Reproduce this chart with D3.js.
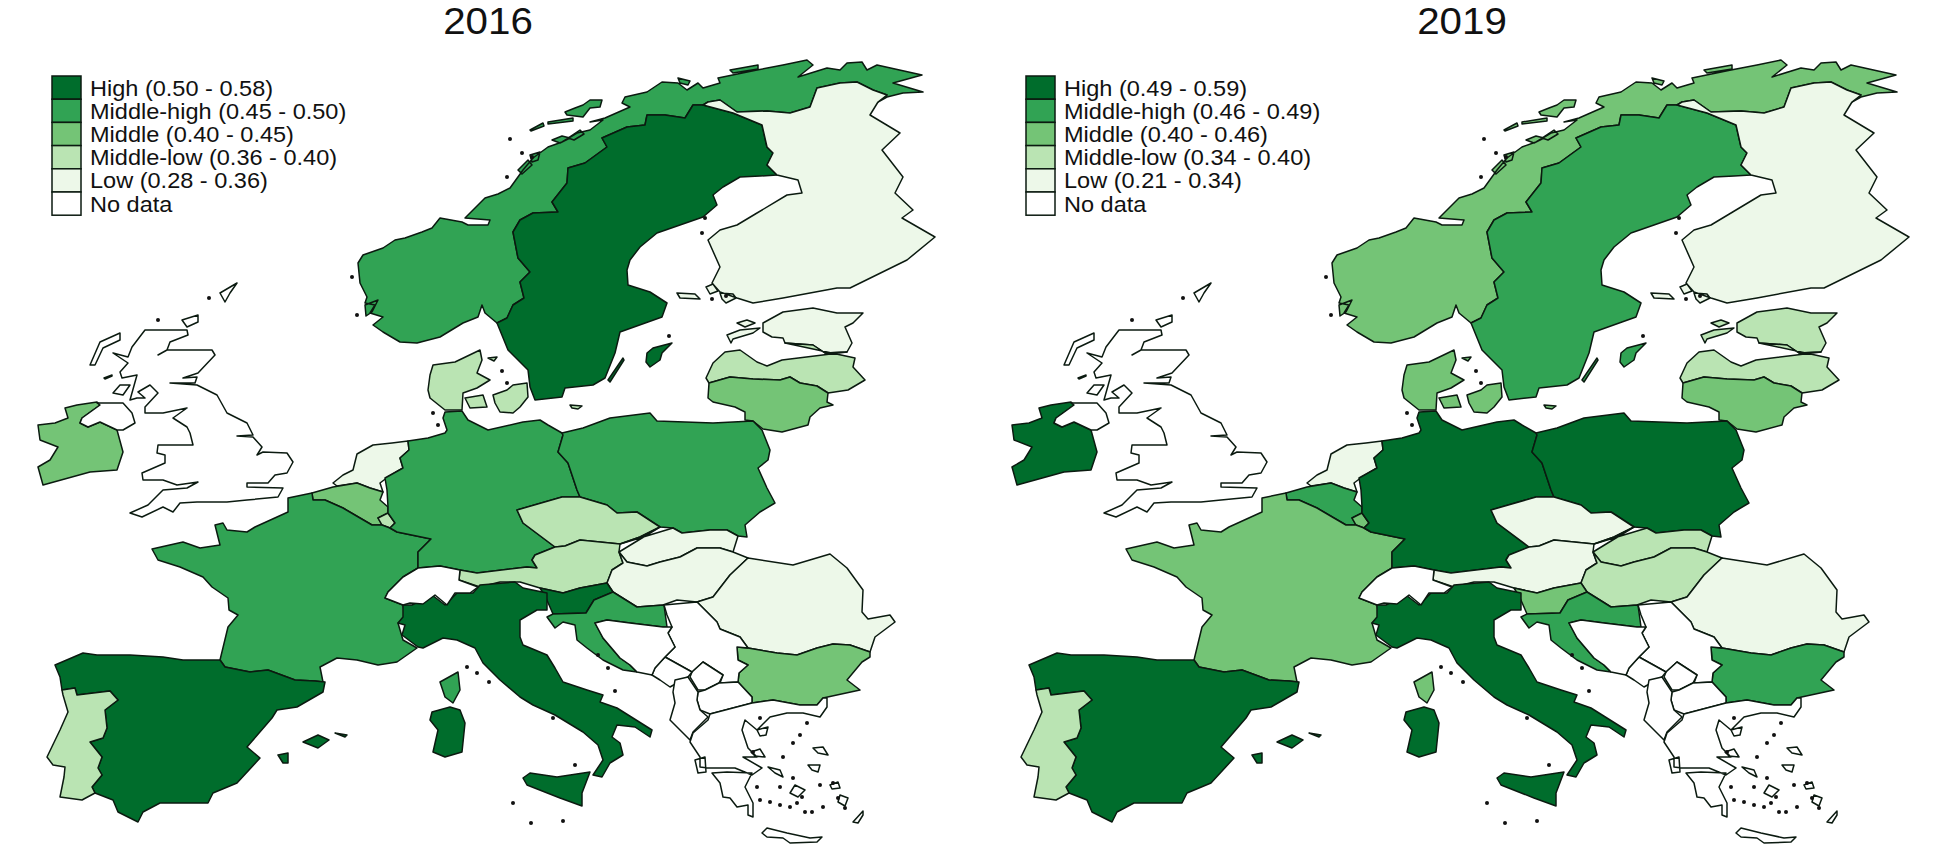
<!DOCTYPE html>
<html>
<head>
<meta charset="utf-8">
<script src="https://cdn.jsdelivr.net/npm/d3@7"></script>
<style>
  html, body { margin: 0; background: #fff; }
  text { font-family: "Liberation Sans", Arial, sans-serif; fill: #111; }
</style>
</head>
<body>
<div id="viz"></div>
<script>
//CANVAS
const CANVAS = { WIDTH: 1948, HEIGHT: 854 };
const PANEL = { OFFSET: 974, TITLE_X: 488, TITLE_Y: 34, TITLE_SIZE: 37, TITLE_STRETCH: 1.09 };
const LEGEND = { X: 52, Y: 76, W: 29, H: 23.2, TEXT_X: 90, TEXT_SIZE: 22, TEXT_STRETCH: 1.07 };

//DATA - panels and legend
const years = ["2016", "2019"];
const classNames = ["High", "Middle-high", "Middle", "Middle-low", "Low", "No data"];
const classColors = ["#006d2c", "#31a354", "#74c476", "#bae4b3", "#edf8e9", "#ffffff"];
const ranges2016 = ["0.50 - 0.58", "0.45 - 0.50", "0.40 - 0.45", "0.36 - 0.40", "0.28 - 0.36", ""];
const ranges2019 = ["0.49 - 0.59", "0.46 - 0.49", "0.40 - 0.46", "0.34 - 0.40", "0.21 - 0.34", ""];

//DATA - borders shared by two countries
const seNo = [[497,323],[507,318],[513,305],[524,298],[520,282],[530,272],[518,258],[513,232],[520,220],[533,213],[558,212],[552,202],[567,183],[568,168],[585,163],[607,147],[602,138],[627,127],[645,125],[647,115],[665,115],[685,118],[693,105],[703,105]];
const seFi = [[703,105],[733,113],[762,125],[767,147],[773,153],[767,165],[777,175]];
const noFi = [[703,105],[708,102],[720,100],[737,112],[767,111],[790,113],[810,107],[817,88],[840,83],[857,82],[873,90],[887,95],[878,102]];
const eeLv = [[847,352],[825,353],[813,345],[785,343]];
const lvLt = [[709,383],[730,377],[753,379],[780,380],[790,377],[800,383],[817,386],[828,393]];
const dePl = [[562,433],[563,435],[558,452],[568,463],[577,490],[580,497]];
const deCz = [[580,497],[562,497],[517,510],[523,523],[555,547]];
const deAt = [[555,547],[535,555],[532,560],[537,568],[527,567],[477,573],[460,570]];
const deCh = [[460,570],[440,566],[418,568]];
const deFr = [[418,568],[418,552],[431,539],[397,532],[390,528]];
const frBe = [[382,525],[372,525],[360,518],[343,508],[325,500],[313,500],[312,493]];
const frEs = [[315,681],[295,680],[268,670],[250,672],[225,667],[220,660]];
const frIt = [[417,648],[403,640],[398,623],[405,617],[403,605]];
const frCh = [[403,605],[385,598],[388,592],[403,577],[418,568]];
const esPt = [[62,690],[75,688],[77,695],[110,691],[118,700],[105,710],[107,728],[103,738],[90,742],[102,757],[98,768],[102,775],[92,787],[95,793]];
const plCz = [[580,497],[607,505],[617,513],[637,512],[660,527]];
const plSk = [[660,527],[673,528],[682,533],[710,530],[727,530]];
const czAt = [[555,547],[565,546],[580,540],[620,544]];
const czSk = [[620,544],[640,537],[660,527]];
const atHu = [[619,552],[623,563],[612,570],[607,583]];
const skHu = [[619,552],[627,562],[647,566],[660,562],[680,557],[697,548],[720,548],[733,552],[748,558]];
const huRo = [[748,558],[730,575],[713,597],[697,602]];
const roBg = [[870,652],[850,645],[833,644],[817,648],[797,655],[777,653],[748,648]];
const roRs = [[697,602],[717,622],[720,629],[740,637],[748,648]];
const bgRs = [[748,648],[737,647],[738,660],[748,665],[739,673],[738,682]];
const bgGr = [[752,703],[773,700],[800,705],[817,705],[823,698]];
const itCh = [[403,605],[412,605],[432,595],[445,605],[457,593],[473,593],[480,585]];
const atIt = [[480,587],[500,582],[520,582],[540,588]];
const siAt = [[540,588],[563,593],[580,588],[607,583]];
const siHr = [[613,592],[594,600],[586,613],[553,614]];
const hrBa = [[595,623],[607,620],[630,623],[663,627],[667,627]];
const hrHu = [[663,605],[637,607],[613,592]];
const rsBa = [[665,657],[675,647],[668,633],[672,627],[667,615],[664,605]];

const rev = a => a.slice().reverse();

//DATA - country outlines
const norway = [
  [[497,323],[485,313],[482,305],[478,317],[463,323],[440,337],[417,343],[400,342],[383,332],[373,325],[383,317],[370,313],[375,305],[365,303],[367,297],[360,283],[358,263],[363,255],[383,248],[395,240],[405,238],[422,232],[432,228],[440,218],[462,222],[468,225],[488,225],[490,220],[465,218],[485,198],[498,194],[510,188],[523,170],[533,158],[548,147],[562,142],[577,133],[590,130],[603,120],[590,122],[605,118],[630,107],[622,103],[625,97],[647,92],[662,82],[678,83],[687,90],[698,83],[703,88],[720,83],[718,78],[757,70],[783,65],[807,60],[813,65],[798,77],[827,68],[840,70],[847,63],[862,62],[867,70],[877,65],[922,75],[893,83],[923,92],[903,93],[887,97],[878,102],
   ...rev(noFi).slice(1), ...rev(seNo).slice(1)],
  [[565,112],[575,108],[583,105],[590,100],[602,100],[600,107],[590,108],[583,117],[567,115]],
  [[548,122],[573,118],[573,121],[548,124]],
  [[530,130],[543,123],[544,126],[531,131]],
  [[730,70],[758,65],[758,69],[733,73]],
  [[678,78],[690,81],[688,85],[680,83]],
  [[552,140],[562,136],[570,138],[560,143]],
  [[568,138],[580,130],[584,134],[574,140]],
  [[518,170],[528,160],[532,165],[522,174]],
  [[530,155],[540,152],[538,160],[532,162]],
  [[365,305],[378,300],[372,312],[366,316]]
];
const sweden = [
  [...seNo, ...seFi.slice(1), [760,176],[740,177],[723,187],[713,195],[717,205],[703,217],[680,225],[657,233],[640,247],[630,260],[627,270],[628,285],[650,292],[667,303],[662,317],[620,332],[615,353],[605,378],[593,385],[565,388],[562,397],[535,400],[530,387],[528,370],[508,350]],
  [[647,353],[653,348],[672,343],[662,353],[660,360],[650,367],[646,362]],
  [[608,380],[623,358],[624,360],[610,382]]
];
const finland = [
  [...noFi, [870,115],[900,133],[882,150],[903,177],[895,193],[913,210],[902,218],[935,237],[907,260],[850,288],[837,288],[783,298],[753,303],[737,298],[720,292],[712,283],[720,267],[708,240],[720,230],[737,225],[757,213],[787,195],[802,193],[798,180],[777,175], ...rev(seFi).slice(1,-1)],
  [[677,293],[695,294],[700,299],[680,298]],
  [[706,287],[713,284],[718,291],[710,294]],
  [[720,293],[733,294],[736,298],[726,303],[722,299]]
];
const estonia = [
  [[763,323],[783,312],[813,308],[837,313],[863,313],[853,323],[845,327],[852,343], ...eeLv, [783,338],[772,337],[763,332]],
  [[737,323],[747,320],[755,323],[745,327]],
  [[727,335],[740,330],[760,328],[753,333],[733,339],[731,343]]
];
const latvia = [[...rev(eeLv), [782,360],[767,366],[757,362],[740,350],[725,352],[713,363],[706,378], ...lvLt, [848,390],[865,380],[853,367],[855,358]]];
const lithuania = [[...lvLt, [827,402],[833,405],[820,408],[810,417],[808,425],[782,432],[763,429],[753,421],[745,420],[745,412],[735,407],[713,402],[708,398]]];
const denmark = [
  [[430,375],[433,365],[455,362],[480,350],[482,360],[477,373],[490,380],[477,388],[463,393],[462,410],[445,410],[430,398],[428,390]],
  [[465,398],[483,395],[487,407],[470,408]],
  [[493,395],[507,390],[513,385],[527,383],[528,397],[520,407],[513,413],[500,412],[495,403]],
  [[570,405],[582,406],[578,409],[572,408]],
  [[488,358],[497,357],[494,361]]
];
const ireland = [[[38,425],[55,423],[68,418],[65,408],[77,405],[97,402],[100,405],[82,418],[80,423],[88,427],[100,422],[117,430],[123,452],[117,470],[90,472],[43,485],[38,467],[50,460],[58,447],[40,440]]];
const uk = [
  [[145,330],[187,330],[188,335],[170,342],[167,350],[158,355],[167,350],[212,350],[215,355],[198,373],[183,378],[197,377],[195,383],[170,383],[197,385],[217,395],[227,413],[247,423],[253,435],[237,436],[253,437],[262,447],[257,455],[263,452],[287,453],[293,462],[287,473],[275,475],[268,483],[247,483],[247,487],[283,488],[278,497],[247,500],[227,502],[197,502],[180,503],[173,512],[163,507],[142,517],[130,513],[148,505],[163,490],[187,488],[198,482],[177,485],[163,480],[143,480],[142,473],[165,463],[165,455],[157,453],[158,445],[193,445],[190,433],[187,427],[173,418],[187,408],[163,413],[145,413],[145,407],[158,393],[150,385],[138,392],[145,398],[137,398],[130,400],[137,375],[122,378],[120,372],[128,363],[113,353],[128,357],[132,347]],
  [[97,403],[123,403],[132,413],[135,423],[123,430],[117,430],[100,422],[88,427],[80,423],[82,418],[100,405]],
  [[90,365],[100,342],[120,333],[120,340],[103,348],[95,365]],
  [[113,393],[120,385],[130,385],[123,395]],
  [[182,320],[198,315],[198,322],[187,327]],
  [[220,293],[237,283],[230,293],[225,302]],
  [[104,378],[112,375],[112,376],[105,379]]
];
const netherlands = [[[373,445],[392,443],[408,441],[409,450],[400,458],[403,468],[388,477],[380,483],[383,492],[370,488],[357,483],[337,486],[333,483],[343,475],[353,470],[357,454]]];
const belgium = [[[312,493],[333,487],[357,483],[370,488],[383,492],[380,500],[388,507],[388,513],[378,518], ...frBe]];
const luxembourg = [[[378,518],[388,513],[395,523],[390,528],[382,525]]];
const france = [
  [[312,493],[288,498],[288,512],[255,527],[247,532],[227,530],[223,523],[215,525],[220,545],[200,548],[183,542],[152,549],[158,560],[180,567],[203,577],[212,587],[228,598],[229,610],[238,615],[228,627],[220,660], ...rev(frEs).slice(1), [323,682],[320,667],[337,658],[357,660],[378,665],[397,662], ...frIt, ...frCh.slice(1), ...deFr.slice(1), ...frBe],
  [[440,682],[458,672],[460,690],[453,703],[445,697]]
];
const germany = [
  [[445,412],[462,411],[468,420],[488,430],[523,422],[540,420],[548,425],[562,433], ...dePl.slice(1), ...deCz.slice(1), ...deAt.slice(1), ...deCh.slice(1), ...deFr.slice(1), [395,523],[388,513],[388,507],[387,490],[385,478],[403,468],[400,458],[409,450],[408,441],[428,438],[445,433],[447,430],[443,418]]
];
const poland = [[...dePl.slice(0,1), [583,428],[610,418],[650,413],[657,421],[713,423],[753,421],[762,430],[770,450],[768,460],[758,468],[767,488],[775,503],[760,512],[745,525],[747,537],[738,536], ...rev(plSk), ...rev(plCz).slice(1), ...rev(dePl).slice(1)]];
const czechia = [[...deCz.slice(1,-1), ...czAt, ...czSk.slice(1), ...rev(plCz).slice(1,-1), [580,497]]];
const slovakia = [[...rev(czSk), ...plSk.slice(1), [738,536], ...rev(skHu).slice(1)]];
const austria = [[...rev(deAt), ...czAt.slice(1), ...atHu, ...rev(siAt).slice(1), ...rev(atIt).slice(1), [459,580]]];
const hungary = [[...skHu, ...huRo.slice(1), [677,600], ...hrHu, ...rev(atHu).slice(0,-1)]];
const romania = [[...rev(huRo), [793,565],[830,554],[847,568],[863,590],[862,612],[868,619],[890,615],[895,622],[875,637],[870,652], ...roBg.slice(1), ...rev(roRs).slice(1,-1)]];
const bulgaria = [[...rev(roBg), [870,657],[862,662],[847,680],[860,690], ...rev(bgGr), [752,697], ...rev(bgRs).slice(0,-1)]];
const slovenia = [[...siAt, ...siHr, [546,598]]];
const croatia = [
  [[553,614],[547,617],[555,628],[563,622],[575,625],[577,640],[587,648],[603,660],[623,670],[637,672],[630,665],[620,658],[603,638], ...hrBa, [664,605], ...hrHu.slice(1), ...siHr.slice(1,-1)]
];
const italy = [
  [...itCh, [515,582],[523,588],[547,593],[547,610],[537,610],[520,620],[520,637],[523,645],[547,655],[555,668],[563,682],[587,690],[603,695],[600,702],[617,708],[652,730],[650,737],[635,727],[617,725],[612,737],[620,743],[623,755],[610,763],[602,777],[593,775],[603,760],[598,745],[583,732],[555,715],[533,705],[520,697],[500,680],[483,663],[475,648],[457,640],[443,638],[423,648],[418,647],[402,635],[405,625],[398,623],[403,617]],
  [[523,778],[530,773],[557,777],[590,772],[582,793],[582,806],[560,798],[527,785]],
  [[430,720],[432,712],[450,707],[460,710],[465,723],[462,752],[445,757],[433,752],[438,730]]
];
const spain = [
  [[220,660],[183,660],[163,657],[130,655],[97,655],[83,653],[55,665],[60,677], ...esPt, [113,800],[118,812],[138,822],[143,812],[160,803],[200,803],[208,803],[213,793],[237,783],[260,758],[247,747],[272,718],[277,710],[297,707],[323,692],[325,682], ...frEs.slice(0,-1)],
  [[303,742],[318,735],[329,740],[318,748]],
  [[335,733],[347,735],[345,737]],
  [[278,755],[288,753],[288,763],[283,763]]
];
const portugal = [[...esPt, [82,800],[60,797],[64,777],[65,767],[53,765],[47,757],[60,730],[68,712],[63,695]]];
const switzerland = [[...rev(deCh), [459,580],[478,587],[470,593],[455,593],[447,605],[435,595],[423,604],[410,603],[403,605], ...frCh.slice(1,-1)]];
const serbia = [[...rsBa, [697,602],[717,622],[720,629],[740,637],[748,648], ...bgRs.slice(1), [720,683],[723,675],[703,662],[692,672]]];
const kosovo = [[[692,672],[703,662],[723,675],[719,683],[705,690],[698,690],[690,677]]];
const macedonia = [[[698,692],[705,690],[719,683],[738,682],[752,697],[752,703],[710,714],[700,710],[697,700]]];
const montenegro = [[[665,657],[692,672],[688,677],[670,687],[660,680],[652,675],[655,668]]];
const albania = [[[675,680],[688,677],[698,692],[697,700],[700,710],[708,717],[693,732],[690,740],[670,720],[675,703],[673,692]]];
const bosnia = [[[603,638],...hrBa, ...rev(rsBa).slice(2), [655,668],[652,675],[637,672],[630,665],[620,658]]];
const greece = [
  [[752,703],[710,714],[708,720],[693,733],[690,742],[700,757],[700,767],[708,768],[735,768],[752,775],[762,768],[743,757],[757,757],[748,748],[742,730],[745,720],[757,730],[770,717],[787,713],[803,713],[820,717],[827,707],[827,698],[823,698],[817,705],[800,705],[773,700]],
  [[712,773],[727,772],[752,773],[745,787],[753,803],[753,817],[748,815],[748,805],[737,807],[730,798],[723,797],[720,783]],
  [[768,767],[780,770],[783,777],[775,773]],
  [[762,833],[767,828],[787,833],[810,838],[822,837],[817,842],[790,843],[783,838],[767,837]],
  [[813,748],[823,747],[828,755],[818,753]],
  [[808,765],[820,765],[818,772],[812,770]],
  [[853,822],[863,811],[863,815],[858,823]],
  [[695,760],[705,757],[706,772],[698,773]],
  [[757,730],[768,727],[766,735],[760,736]],
  [[751,752],[760,749],[765,757],[755,756]],
  [[830,785],[838,782],[840,788],[832,789]],
  [[795,785],[805,790],[798,797],[790,793]],
  [[840,795],[848,798],[845,806],[838,802]]
];

//DATA - very small islands, too small to trace
const islets = [[510,139],[522,153],[532,157],[507,177],[357,315],[352,277],[705,218],[702,233],[669,336],[502,371],[507,383],[158,320],[209,298],[467,667],[477,673],[489,682],[553,718],[575,765],[513,803],[531,823],[563,821],[760,718],[807,723],[800,735],[793,743],[783,757],[753,752],[757,787],[780,787],[760,800],[770,802],[780,805],[790,807],[797,803],[802,797],[793,778],[805,812],[812,812],[823,807],[838,798],[845,808],[820,785],[833,783],[433,413],[438,425],[598,655],[608,668],[615,691],[712,299],[726,296]];

//DATA - one row per country: class name per year
const countries = ["Norway","Sweden","Finland","Estonia","Latvia","Lithuania","Denmark","Ireland","United Kingdom","Netherlands","Belgium","Luxembourg","France","Germany","Poland","Czechia","Slovakia","Austria","Hungary","Romania","Bulgaria","Slovenia","Croatia","Italy","Spain","Portugal","Switzerland","Serbia","Kosovo","N. Macedonia","Montenegro","Albania","Bosnia","Greece"];
const outlines = [norway,sweden,finland,estonia,latvia,lithuania,denmark,ireland,uk,netherlands,belgium,luxembourg,france,germany,poland,czechia,slovakia,austria,hungary,romania,bulgaria,slovenia,croatia,italy,spain,portugal,switzerland,serbia,kosovo,macedonia,montenegro,albania,bosnia,greece];
const class2016 = ["Middle-high","High","Low","Low","Middle-low","Middle","Middle-low","Middle","No data","Low","Middle","Middle-low","Middle-high","Middle-high","Middle-high","Middle-low","Low","Middle-low","Low","Low","Middle","High","Middle-high","High","High","Middle-low","No data","No data","No data","No data","No data","No data","No data","No data"];
const class2019 = ["Middle","Middle-high","Low","Middle-low","Middle-low","Middle","Middle","High","No data","Low","Middle-high","Middle","Middle","High","High","Low","Middle-low","Low","Middle-low","Low","Middle-high","Middle","Middle-high","High","High","Middle-low","No data","No data","No data","No data","No data","No data","No data","No data"];

const closeRing = r => [...r, r[0]];
const features = countries.map((name, i) => ({
  type: "Feature",
  properties: { name: name, classes: [class2016[i], class2019[i]] },
  geometry: { type: "MultiPolygon", coordinates: outlines[i].map(r => [closeRing(r)]) }
}));

//SCALES
const colorScale = d3.scaleOrdinal(classNames, classColors);
const legendY = d3.scaleBand().domain(classNames).range([LEGEND.Y, LEGEND.Y + LEGEND.H * classNames.length]);

const svg = d3.select("#viz").append("svg")
  .attr("width", CANVAS.WIDTH)
  .attr("height", CANVAS.HEIGHT);

[ranges2016, ranges2019].forEach((ranges, p) => drawPanel(p, ranges));

function drawPanel(p, ranges){
  const g = svg.append("g").attr("transform", `translate(${p * PANEL.OFFSET}, 0)`);
  const path = d3.geoPath(d3.geoIdentity()).pointRadius(2);

  g.append("text").text(years[p])
    .attr("transform", `translate(${PANEL.TITLE_X}, ${PANEL.TITLE_Y}) scale(${PANEL.TITLE_STRETCH}, 1)`)
    .attr("text-anchor", "middle")
    .style("font-size", PANEL.TITLE_SIZE + "px");

  g.selectAll("path.country").data(features).join("path")
    .attr("class", "country")
    .attr("d", path)
    .attr("fill", d => colorScale(d.properties.classes[p]))
    .attr("stroke", "#0b1a10")
    .attr("stroke-width", 1.5)
    .attr("stroke-linejoin", "round");

  g.selectAll("path.islet").data(islets).join("path")
    .attr("class", "islet")
    .attr("d", d => path({ type: "Point", coordinates: d }))
    .attr("fill", "#111");

  const row = g.selectAll("g.legend").data(classNames).join("g")
    .attr("class", "legend")
    .attr("transform", d => `translate(${LEGEND.X}, ${legendY(d)})`);
  row.append("rect")
    .attr("width", LEGEND.W).attr("height", legendY.bandwidth())
    .attr("fill", d => colorScale(d))
    .attr("stroke", "#0b1a10").attr("stroke-width", 1.5);
  row.append("text")
    .text((d, i) => ranges[i] ? `${d} (${ranges[i]})` : d)
    .attr("transform", `translate(${LEGEND.TEXT_X - LEGEND.X}, ${legendY.bandwidth() / 2 + 8}) scale(${LEGEND.TEXT_STRETCH}, 1)`)
    .style("font-size", LEGEND.TEXT_SIZE + "px");
}
</script>
</body>
</html>
